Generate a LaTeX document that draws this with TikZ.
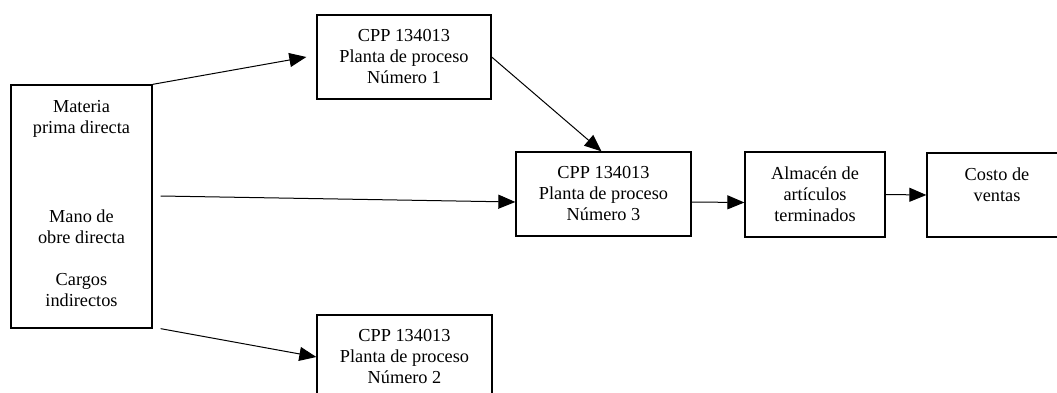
\documentclass[tikz,border=0pt]{standalone}
\usepackage{fontspec}
\setmainfont{Liberation Serif}
\usetikzlibrary{arrows.meta}
\begin{document}
\begin{tikzpicture}[x=1pt,y=-1pt,
  box/.style={draw, line width=1.3pt, inner sep=0pt, align=center,
    font=\fontsize{18.3}{21}\selectfont, minimum width=#1},
  box/.default=175pt,
  lbl/.style={inner sep=0pt, align=center, font=\fontsize{18.3}{21}\selectfont},
  flow/.style={line width=1pt, -{Triangle[length=17pt,width=14pt]}}]
\useasboundingbox (0,0) rectangle (1057,393);
\clip (0,0) rectangle (1057,393);

% inputs box
\node[box=141pt, minimum height=243pt] (src) at (81.5,206.5) {};
\node[lbl] (mp) at (81.5,119) {Materia\\prima directa};
\node[lbl] (mo) at (81.5,227) {Mano de\\obre directa};
\node[lbl] (ci) at (81.5,290) {Cargos\\indirectos};

% process plants
\node[box=174pt, minimum height=84pt] (p1) at (404,57) {CPP 134013\\Planta de proceso\\Número 1};
\node[box=175pt, minimum height=84pt] (p3) at (603.5,194) {CPP 134013\\Planta de proceso\\Número 3};
\node[box=175pt, minimum height=84pt] (p2) at (404.5,357) {CPP 134013\\Planta de proceso\\Número 2};

% finished goods and cost of sales
\node[box=140pt, minimum height=85pt] (alm) at (815,194.5) {Almacén de\\artículos\\terminados};
\node[box=140pt, minimum height=84pt] (cos) at (997,195) {Costo de\\ventas\\~};

% flows
\draw[flow] (src.north east) -- ([xshift=-10pt]p1.west);
\draw[flow] (p1.east) -- ([xshift=-2pt]p3.north);
\draw[flow] ([shift={(8pt,10.5pt)}]src.east) -- ([yshift=-8pt]p3.west);
\draw[flow] ([xshift=8pt]src.south east) -- (p2.west);
\draw[flow] ([yshift=-8pt]p3.east) -- ([yshift=-8pt]alm.west);
\draw[flow] (alm.east) -- (cos.west);
\end{tikzpicture}
\end{document}
